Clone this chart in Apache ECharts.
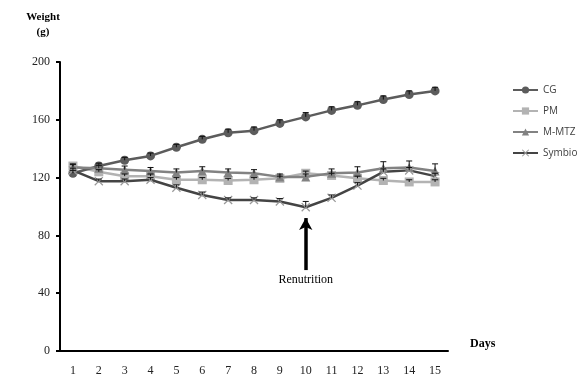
<!DOCTYPE html>
<html><head><meta charset="utf-8">
<script src="https://cdn.jsdelivr.net/npm/echarts@6/dist/echarts.min.js"></script>
<style>html,body{margin:0;padding:0;background:#fff}#c{width:580px;height:391px}</style>
</head><body><div id="c"></div>
<script>
const days = ['1','2','3','4','5','6','7','8','9','10','11','12','13','14','15'];
const cg     = [123,128,132,135,141,146.5,151,152.5,157.5,162,166.5,170,174,177.5,180];
const cgErr  = [2,2,2,2,2,2,2.5,2.5,2.5,3,2.5,2.5,2.5,2.5,2.5];
const pm     = [128,124,121,121,118.5,118.5,118,118.5,119.5,123,121.5,119.5,118,117,117];
const pmErr  = [1.5,1.5,1.5,1.5,1.5,1.5,1.5,1.5,1.5,1.5,1.5,1.5,1.5,1.5,1.5];
const mmtz   = [127,126.5,125.5,124.5,123.5,124.5,123.5,123,120.5,120.5,123,123.5,126.5,127,124.5];
const mmtzErr= [2,2,2.5,2.5,2.5,3,2.5,2.5,2,2,3,4,4.5,4.5,5];
const symbio = [125,117.5,117.5,118.5,113,108,104.5,104.5,103.5,99.5,106,114.5,124,125,121];
const symErr = [1.5,1.5,1.5,1.5,2,2,1.5,1.5,2,4,2,2,2,2,2];
const yTicks = [0,40,80,120,160,200];

const serif = '"Liberation Serif","DejaVu Serif",serif';
const sans = '"Open Sans","Liberation Sans",sans-serif';
const xPath = 'path://M0,1L1,0L5,4L9,0L10,1L6,5L10,9L9,10L5,6L1,10L0,9L4,5Z';

function errSeries(vals, errs){
  return {
    type:'custom', silent:true, z:5,
    data: vals.map((v,i)=>[i, v, errs[i]]),
    renderItem(params, api){
      const x = api.value(0), v = api.value(1), e = api.value(2);
      const p0 = api.coord([x, v]);
      const p1 = api.coord([x, v + e]);
      const style = {stroke:'#111', lineWidth:1};
      return {type:'group', children:[
        {type:'line', shape:{x1:p0[0],y1:p0[1],x2:p1[0],y2:p1[1]}, style},
        {type:'line', shape:{x1:p1[0]-3,y1:p1[1],x2:p1[0]+3,y2:p1[1]}, style}
      ]};
    }
  };
}

const chart = echarts.init(document.getElementById('c'));
chart.setOption({
  animation:false,
  backgroundColor:'#fff',
  grid:{left:60, right:132, top:62, bottom:40},
  legend:{
    orient:'vertical', left:507, top:80, itemGap:11, itemWidth:25, itemHeight:9,
    textStyle:{fontFamily:sans, fontSize:10, color:'#404040'},
    data:['CG','PM','M-MTZ','Symbio']
  },
  xAxis:{
    type:'category', data:days, boundaryGap:true,
    name:'Days', nameLocation:'end', nameGap:22,
    nameTextStyle:{fontFamily:serif, fontWeight:'bold', fontSize:12, color:'#000', verticalAlign:'bottom', padding:[0,0,1,0]},
    axisLine:{lineStyle:{color:'#000', width:2}},
    axisTick:{inside:true, length:4, lineStyle:{color:'#000', width:2}},
    axisLabel:{fontFamily:serif, fontSize:12, color:'#222', margin:14}
  },
  yAxis:{
    type:'value', min:0, max:200, interval:40,
    name:'Weight\n(g)', nameLocation:'end', nameGap:22,
    nameTextStyle:{fontFamily:serif, fontWeight:'bold', fontSize:11, color:'#000', align:'center', lineHeight:15, padding:[0,34,0,0]},
    splitLine:{show:false},
    axisLine:{show:true, lineStyle:{color:'#000', width:2}},
    axisTick:{show:true, length:4, lineStyle:{color:'#000', width:2}},
    axisLabel:{fontFamily:serif, fontSize:12, color:'#222', margin:10}
  },
  series:[
    errSeries(cg, cgErr), errSeries(pm, pmErr), errSeries(mmtz, mmtzErr), errSeries(symbio, symErr),
    {name:'CG', type:'line', data:cg, symbol:'circle', symbolSize:9, z:3,
      lineStyle:{color:'#5c5c5c', width:2.5}, itemStyle:{color:'#5c5c5c'}},
    {name:'PM', type:'line', data:pm, symbol:'rect', symbolSize:9, z:2,
      lineStyle:{color:'#b3b3b3', width:2.5}, itemStyle:{color:'#b3b3b3'}},
    {name:'M-MTZ', type:'line', data:mmtz, symbol:'triangle', symbolSize:9, z:3,
      lineStyle:{color:'#828282', width:2.5}, itemStyle:{color:'#828282'}},
    {name:'Symbio', type:'line', data:symbio, symbol:xPath, symbolSize:9, z:3,
      lineStyle:{color:'#444', width:2.5}, itemStyle:{color:'#999'},
      markLine:{
        silent:true, symbol:['none','arrow'], symbolSize:[10,12],
        lineStyle:{color:'#000', width:3.5, type:'solid'},
        label:{show:true, position:'start', formatter:'Renutrition', fontFamily:serif, fontSize:12, color:'#000', distance:4},
        data:[[{coord:['10',56]},{coord:['10',92]}]]
      }}
  ]
});
</script></body></html>
